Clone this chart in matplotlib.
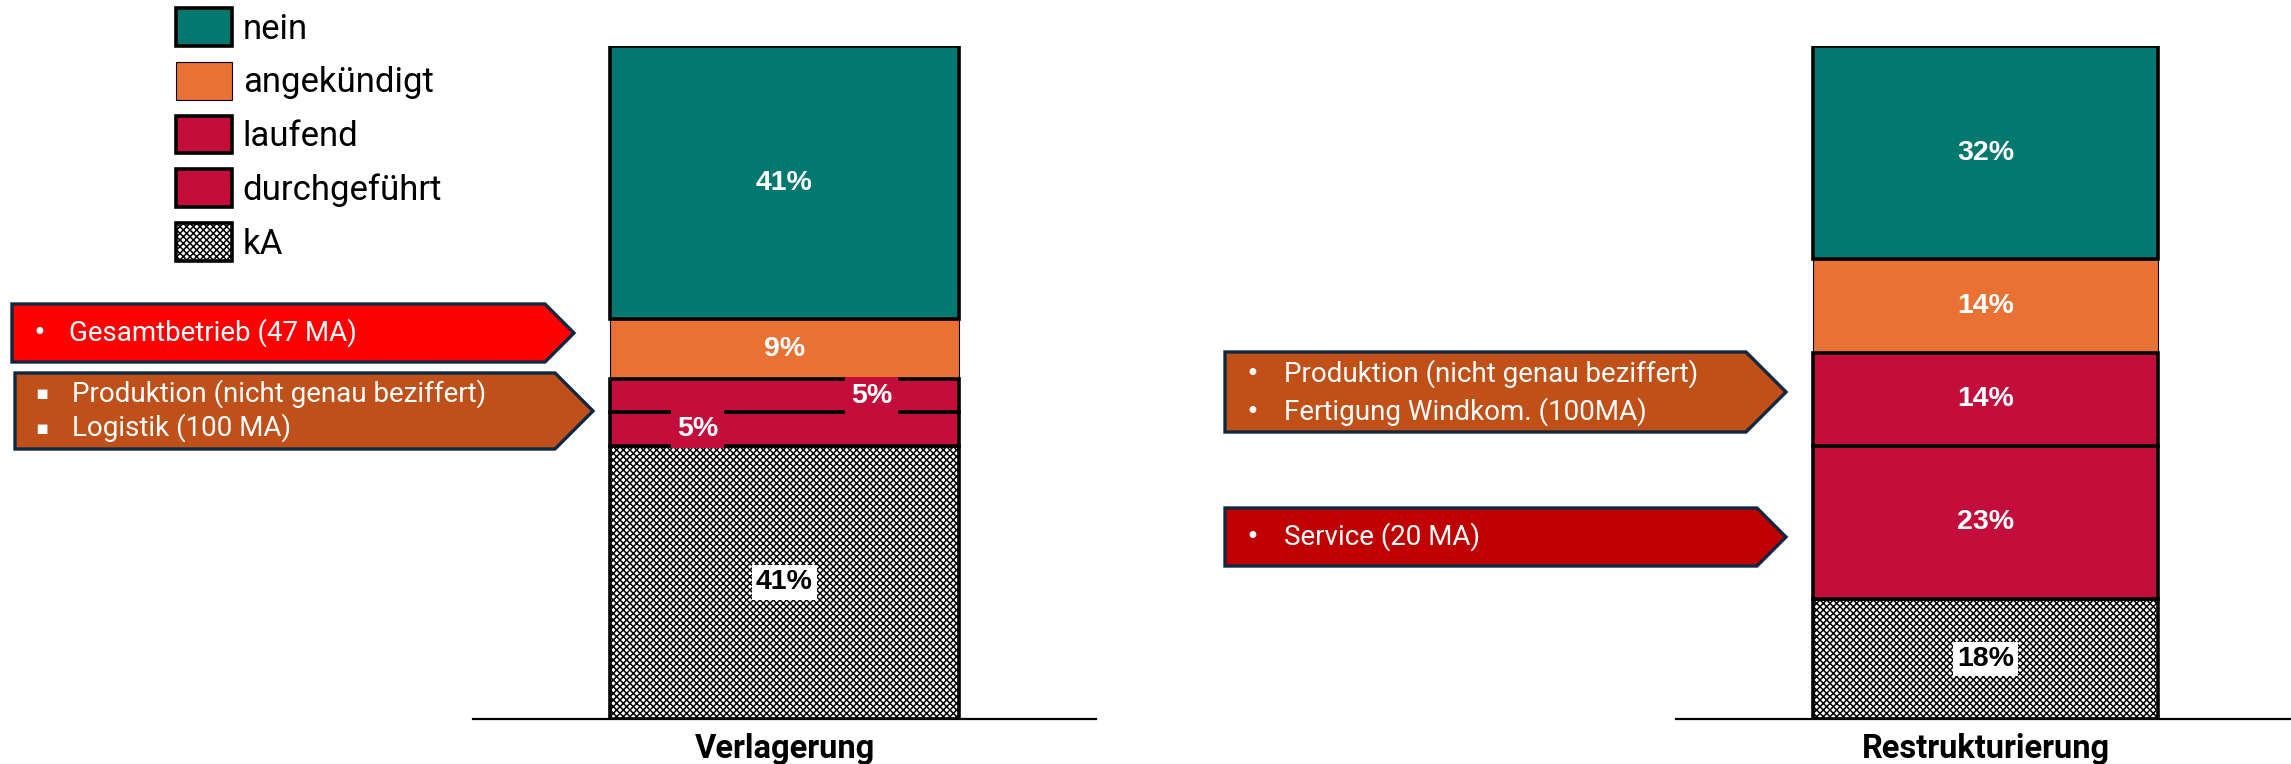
import numpy as np
import matplotlib
matplotlib.use("Agg")
import matplotlib.pyplot as plt
from matplotlib.patches import Patch, Polygon

# data
categories = ["Verlagerung", "Restrukturierung"]
status = ["kA", "durchgeführt", "laufend", "angekündigt", "nein"]   # bottom -> top
verlagerung = [41, 5, 5, 9, 41]
restrukturierung = [18, 23, 14, 14, 32]
legend_order = ["nein", "angekündigt", "laufend", "durchgeführt", "kA"]

arrow_texts = [
    ["Gesamtbetrieb (47 MA)"],
    ["Produktion (nicht genau beziffert)", "Logistik (100 MA)"],
    ["Produktion (nicht genau beziffert)", "Fertigung Windkom. (100MA)"],
    ["Service (20 MA)"],
]

colors = {"nein": "#02786E", "angekündigt": "#E97134", "laufend": "#C30E3C",
          "durchgeführt": "#C30E3C", "kA": "white"}
edge_lw = {"nein": 2.6, "angekündigt": 0.8, "laufend": 2.6, "durchgeführt": 2.6, "kA": 2.6}

W, H = 2291, 764
plt.rcParams["font.family"] = ["Roboto", "DejaVu Sans"]
plt.rcParams["hatch.linewidth"] = 1.1

fig = plt.figure(figsize=(W / 100, H / 100), dpi=100)


def fx(x):
    return x / W


def fy(y):
    return 1 - y / H


def draw_stack(ax, values, name, label_dx=None):
    label_dx = label_dx or {}
    bottom = 0
    for st, v in zip(status, values):
        z = 1 if st == "angekündigt" else 2
        ax.bar(0, v, bottom=bottom, width=1, color=colors[st], edgecolor="black",
               linewidth=edge_lw[st], hatch="xxxxx" if st == "kA" else None, zorder=z)
        cx = label_dx.get(st, 0)
        cy = bottom + v / 2
        if st == "kA":
            ax.text(cx, cy, f"{v}%", ha="center", va="center", color="black",
                    fontsize=20.5, fontweight="bold", family="Liberation Sans", zorder=5,
                    bbox=dict(boxstyle="square,pad=0.15", fc="white", ec="none"))
        elif st in label_dx:
            ax.text(cx, cy, f"{v}%", ha="center", va="center", color="white",
                    fontsize=20.5, fontweight="bold", family="Liberation Sans", zorder=5,
                    bbox=dict(boxstyle="square,pad=0.22", fc=colors[st], ec="none"))
        else:
            ax.text(cx, cy, f"{v}%", ha="center", va="center", color="white",
                    fontsize=20.5, fontweight="bold", family="Liberation Sans", zorder=5)
        bottom += v
    ax.set_xlim(-0.895, 0.895)
    ax.set_ylim(0, 101)
    for s in ["top", "left", "right"]:
        ax.spines[s].set_visible(False)
    ax.spines["bottom"].set_linewidth(1.6)
    ax.set_yticks([])
    ax.set_xticks([0])
    ax.set_xticklabels([name], fontsize=23.5, fontweight="bold")
    ax.tick_params(axis="x", length=0, pad=10)
    ax.patch.set_alpha(0)


ax1 = fig.add_axes([fx(473), fy(719), fx(1096) - fx(473), (719 - 46) / H])
ax2 = fig.add_axes([fx(1676), fy(719), fx(2295) - fx(1676), (719 - 46) / H])
draw_stack(ax1, verlagerung, categories[0], {"laufend": 0.25, "durchgeführt": -0.25})
draw_stack(ax2, restrukturierung, categories[1])

# legend
handles = [Patch(facecolor=colors[s], edgecolor="black", linewidth=edge_lw[s],
                 hatch="xxxxx" if s == "kA" else None) for s in legend_order]
fig.legend(handles, legend_order, loc="upper left", bbox_to_anchor=(fx(176), fy(8)),
           frameon=False, fontsize=25, handlelength=1.6, handleheight=1.3,
           labelspacing=0.46, handletextpad=0.32, borderpad=0, borderaxespad=0)


# arrow callouts (home plate shapes)
def callout(x0, x1, top, bot, fill, lines, bullet, text_x, line_ys):
    tip = x1 + (bot - top) / 2
    mid = (top + bot) / 2
    pts = [(x0, top), (x1, top), (tip, mid), (x1, bot), (x0, bot)]
    poly = Polygon([(fx(x), fy(y)) for x, y in pts], closed=True, transform=fig.transFigure,
                   facecolor=fill, edgecolor="#0E2841", linewidth=2.4, joinstyle="miter")
    fig.patches.append(poly)
    for txt, y in zip(lines, line_ys):
        fig.text(fx(x0 + 27), fy(y), bullet, color="white", fontsize=14 if bullet == "▪" else 17,
                 ha="center", va="center", family=["DejaVu Sans"])
        fig.text(fx(text_x), fy(y), txt, color="white", fontsize=20, ha="left", va="center")


callout(12, 545, 304, 362, "#FF0000", arrow_texts[0], "•", 69, [333])
callout(15, 555, 373, 449, "#C0501A", arrow_texts[1], "▪", 72, [394, 428])
callout(1225, 1746, 352, 432, "#C05018", arrow_texts[2], "•", 1284, [374, 412])
callout(1225, 1757, 508, 566, "#C00000", arrow_texts[3], "•", 1284, [537])

fig.savefig("out.png", dpi=100)
